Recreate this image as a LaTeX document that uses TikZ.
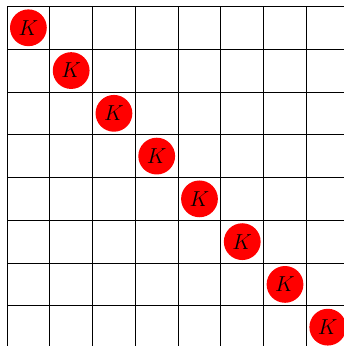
\documentclass[tikz,border=0pt]{standalone}
\usetikzlibrary{positioning}
\tikzset{
  brd/.style={draw=black,line width=0.5pt},
  kng/.style={circle,fill=red,minimum size=0.86cm,inner sep=0pt,font=\Large}
}
\begin{document}
\begin{tikzpicture}
  \useasboundingbox (-0.164,0.06) rectangle (7.875,8.15);
  \draw[brd] (0,0) grid (8,8);
  \foreach \i in {1,...,8}{
    \node[kng] (k\i) at (\i-0.5,8.5-\i) {$K$};
  }
\end{tikzpicture}
\end{document}
